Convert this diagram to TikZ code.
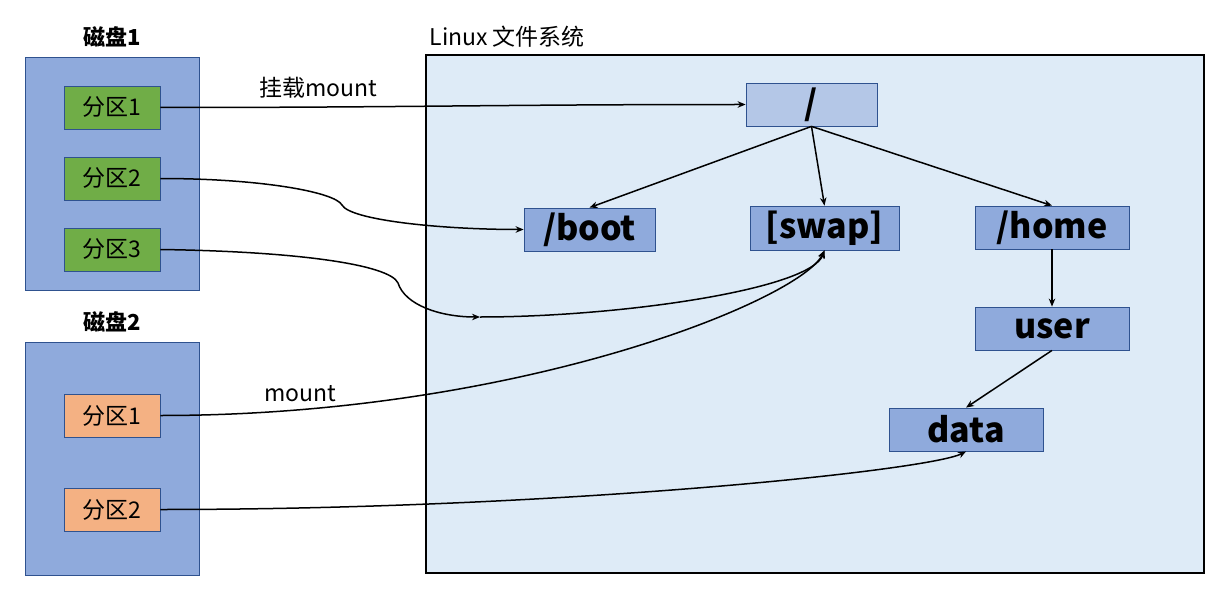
\documentclass[tikz,border=0pt]{standalone}
\usepackage{fontspec}
\setmainfont{Noto Sans CJK SC}
\usetikzlibrary{arrows.meta}
\definecolor{diskblue}{HTML}{8FAADC}
\definecolor{rootblue}{HTML}{B4C7E7}
\definecolor{fsblue}{HTML}{DEEBF7}
\definecolor{edgeblue}{HTML}{2F528F}
\definecolor{partgreen}{HTML}{70AD47}
\definecolor{partorange}{HTML}{F4B183}
\begin{document}
\begin{tikzpicture}[x=1pt,y=1pt,
    box/.style={draw=edgeblue,line width=0.8pt,inner sep=0pt},
    part/.style={box,minimum width=96pt,minimum height=43pt,font=\fontsize{23}{27}\selectfont},
    dir/.style={box,fill=diskblue,minimum height=43pt,font=\fontsize{34}{38}\selectfont\bfseries},
    link/.style={line width=1.5pt,-{Stealth[length=8pt,width=6.5pt]}},
    lbl/.style={font=\fontsize{23}{27}\selectfont}]
    \useasboundingbox (0,0) rectangle (1226,-591);
    \node[draw=black,line width=1.8pt,fill=fsblue,minimum width=778pt,minimum height=518pt] (fs) at (815,-314) {};
    \node[box,fill=diskblue,minimum width=174pt,minimum height=233pt] (disk1) at (112,-173.5) {};
    \node[box,fill=diskblue,minimum width=174pt,minimum height=233pt] (disk2) at (112,-458.5) {};
    \node[lbl,font=\fontsize{22}{26}\selectfont\bfseries] (disk1name) at (112,-37) {磁盘1};
    \node[lbl,font=\fontsize{22}{26}\selectfont\bfseries] (disk2name) at (112,-322) {磁盘2};
    \node[lbl,anchor=west] (fsname) at (426,-37) {Linux 文件系统};
    \node[lbl] (mount1) at (318,-88) {挂载mount};
    \node[lbl] (mount2) at (300,-394) {mount};
    \node[part,fill=partgreen] (d1p1) at (112,-107.5) {分区1};
    \node[part,fill=partgreen] (d1p2) at (112,-178.5) {分区2};
    \node[part,fill=partgreen] (d1p3) at (112,-249.5) {分区3};
    \node[part,fill=partorange] (d2p1) at (112,-415.5) {分区1};
    \node[part,fill=partorange] (d2p2) at (112,-509.5) {分区2};
    \node[dir,fill=rootblue,minimum width=131pt] (root) at (811.5,-104.5) {/};
    \node[dir,minimum width=131pt] (boot) at (589.5,-229.5) {/boot};
    \node[dir,minimum width=149pt,minimum height=44pt] (swap) at (824.5,-228) {[swap]};
    \node[dir,minimum width=154pt] (home) at (1052,-227.5) {/home};
    \node[dir,minimum width=154pt] (user) at (1052,-328.5) {user};
    \node[dir,minimum width=154pt] (data) at (966,-429.5) {data};
    \coordinate (k2) at (342,-205);
    \coordinate (k3) at (398,-283);
    \coordinate (m3) at (480,-317);
    \draw[link] (root.south) -- (boot.north);
    \draw[link] (root.south) -- (swap.north);
    \draw[link] (root.south) -- (home.north);
    \draw[link] (home.south) -- (user.north);
    \draw[link] (user.south) -- (data.north);
    \draw[link] (d1p1.east) .. controls +(250,0) and +(-250,0) .. (root.west);
    \draw[link] (d1p2.east) .. controls +(100,0) and +(-7,13) .. (k2) .. controls +(8,-15) and +(-84,0) .. (boot.west);
    \draw[link] (d1p3.east) .. controls +(140,-2) and +(-8,18) .. (k3) .. controls +(7,-22) and +(-40,0) .. (m3);
    \draw[link] (m3) .. controls +(140,0) and +(-14,-39) .. (swap.south);
    \draw[link] (d2p1.east) .. controls +(360,0) and +(-24,-49) .. (swap.south);
    \draw[link] (d2p2.east) .. controls +(400,0) and +(-36,-19) .. (data.south);
\end{tikzpicture}
\end{document}
